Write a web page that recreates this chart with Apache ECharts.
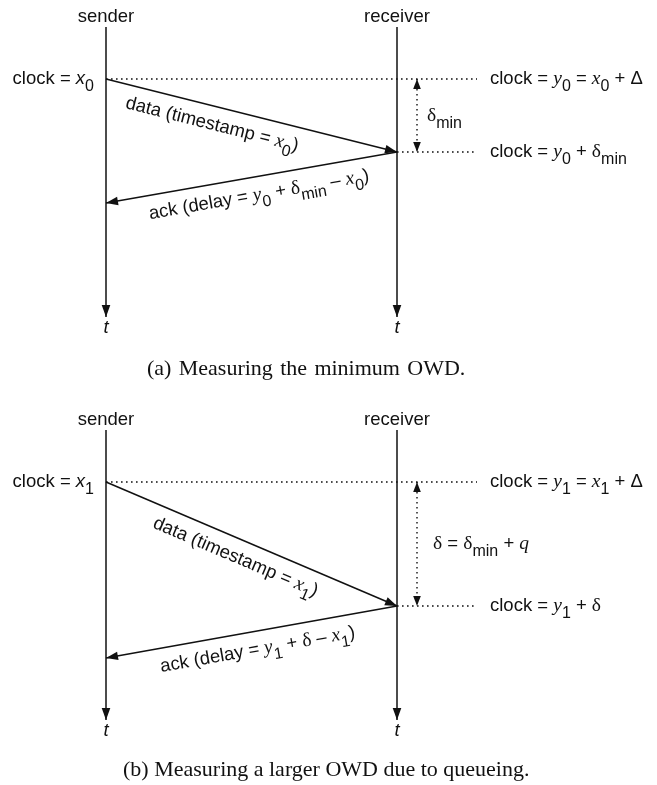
<!DOCTYPE html>
<html><head><meta charset="utf-8">
<script src="https://cdn.jsdelivr.net/npm/echarts@6/dist/echarts.min.js"></script>
<style>html,body{margin:0;padding:0;background:#fff}#c{width:657px;height:785px}</style>
</head><body><div id="c"></div>
<script>
// ---------------- data ----------------
const participants = ['sender', 'receiver'];
const participantPos = [0, 1];
const timelineStart = -52;
const timelineEnd = 238;
// index 0 = panel (a), index 1 = panel (b)
const sendTimes = [0, 0];
const arriveTimes = [73, 124];
const ackTimes = [124, 176];
const senderClockLabels = ['clock = {xi|x}{sub|0}', 'clock = {xi|x}{sub|1}'];
const receiverClockLabels = ['clock = {ti|y}{sub|0} = {ti|x}{sub|0} + Δ', 'clock = {ti|y}{sub|1} = {ti|x}{sub|1} + Δ'];
const arrivalClockLabels = ['clock = {ti|y}{sub|0} + {d|δ}{sub|min}', 'clock = {ti|y}{sub|1} + {d|δ}'];
const delayLabels = ['{d|δ}{sub|min}', '{d|δ} = {d|δ}{sub|min} + {ti|q}'];
const dataLabels = ['data (timestamp = {ti|x}{sub|0})', 'data (timestamp = {ti|x}{sub|1})'];
const ackLabels = ['ack (delay = {ti|y}{sub|0} + {d|δ}{sub|min} – {ti|x}{sub|0})', 'ack (delay = {ti|y}{sub|1} + {d|δ} – {ti|x}{sub|1})'];
const captions = ['(a) \u200AMeasuring \u200Athe \u200Aminimum \u200AOWD.', '(b) Measuring a larger OWD due to queueing.'];

// ---------------- layout / style ----------------
const INK = '#111';
const SANS = '"Liberation Sans", Arial, Helvetica, sans-serif';
const SERIF = '"Liberation Serif", "Times New Roman", serif';
const gridTops = [27, 430];
const captionTops = [357, 758];
const captionLefts = [147, 123];
const msgLabelFrac = [[0.38, 0.515], [0.47, 0.51]];
const MSG_LABEL_OFFSET = 18.5;
const delayLabelGap = [30, 36];
const rich = {
  sub: {fontFamily: SANS, fontSize: 16, padding: [16, 0, 0, 0], fill: INK},
  xi: {fontFamily: SANS, fontStyle: 'italic', fontSize: 18.5, fill: INK},
  ti: {fontFamily: SERIF, fontStyle: 'italic', fontSize: 19.5, fill: INK},
  d: {fontFamily: SERIF, fontSize: 19.5, fill: INK}
};

function seg(a, b, dotted) {
  return {type: 'line', shape: {x1: a[0], y1: a[1], x2: b[0], y2: b[1]},
    style: {stroke: INK, lineWidth: dotted ? 1.4 : 1.5, lineDash: dotted ? [1.6, 3.4] : null, fill: null}};
}
function head(tip, from, len, half) {
  len = len || 12; half = half || 4.3;
  const dx = tip[0] - from[0], dy = tip[1] - from[1];
  const L = Math.hypot(dx, dy), ux = dx / L, uy = dy / L;
  const bx = tip[0] - ux * len, by = tip[1] - uy * len;
  return {type: 'polygon', shape: {points: [tip, [bx - uy * half, by + ux * half], [bx + uy * half, by - ux * half]]},
    style: {fill: INK, stroke: null}};
}
function txt(x, y, text, st, extra) {
  return Object.assign({type: 'text', x: x, y: y, silent: true,
    style: Object.assign({text: text, rich: rich, fontFamily: SANS, fontSize: 18.5, fill: INK,
      align: 'left', verticalAlign: 'middle'}, st || {})}, extra || {});
}

const series = [];
[0, 1].forEach(function (k) {
  const base = {type: 'custom', xAxisIndex: k, yAxisIndex: k, silent: true, clip: false};
  // lifelines
  series.push(Object.assign({}, base, {
    data: participants.map(function (p, i) { return [participantPos[i], timelineStart, timelineEnd]; }),
    renderItem: function (params, api) {
      const x = api.value(0);
      const a = api.coord([x, api.value(1)]), b = api.coord([x, api.value(2)]);
      return {type: 'group', children: [
        seg(a, b), head(b, a),
        txt(a[0], a[1] - 10, participants[params.dataIndex], {align: 'center'}),
        txt(b[0], b[1] + 11, 't', {align: 'center', fontStyle: 'italic'})
      ]};
    }
  }));
  // messages
  series.push(Object.assign({}, base, {
    data: [[participantPos[0], sendTimes[k], participantPos[1], arriveTimes[k]],
           [participantPos[1], arriveTimes[k], participantPos[0], ackTimes[k]]],
    renderItem: function (params, api) {
      const i = params.dataIndex;
      const p0 = api.coord([api.value(0), api.value(1)]);
      const p1 = api.coord([api.value(2), api.value(3)]);
      const L = p0[0] < p1[0] ? p0 : p1, R = p0[0] < p1[0] ? p1 : p0;
      const th = Math.atan2(R[1] - L[1], R[0] - L[0]);
      const f = msgLabelFrac[k][i];
      const cx = L[0] + f * (R[0] - L[0]) - Math.sin(th) * MSG_LABEL_OFFSET;
      const cy = L[1] + f * (R[1] - L[1]) + Math.cos(th) * MSG_LABEL_OFFSET;
      return {type: 'group', children: [
        seg(p0, p1), head(p1, p0),
        txt(cx, cy, i === 0 ? dataLabels[k] : ackLabels[k], {align: 'center'}, {rotation: -th})
      ]};
    }
  }));
  // clock reference lines
  series.push(Object.assign({}, base, {
    data: [[participantPos[0], sendTimes[k]], [participantPos[1], arriveTimes[k]]],
    renderItem: function (params, api) {
      const i = params.dataIndex;
      const p = api.coord([api.value(0), api.value(1)]);
      const rx = api.coord([participantPos[1], api.value(1)])[0];
      const ch = [seg(p, [rx + 80, p[1]], true),
        txt(rx + 93, p[1], i === 0 ? receiverClockLabels[k] : arrivalClockLabels[k])];
      if (i === 0) ch.push(txt(p[0] - 12, p[1], senderClockLabels[k], {align: 'right'}));
      return {type: 'group', children: ch};
    }
  }));
  // delay interval
  series.push(Object.assign({}, base, {
    data: [[participantPos[1], sendTimes[k], arriveTimes[k]]],
    renderItem: function (params, api) {
      const a = api.coord([api.value(0), api.value(1)]);
      const b = api.coord([api.value(0), api.value(2)]);
      const x = a[0] + 20;
      const A = [x, a[1]], B = [x, b[1]];
      return {type: 'group', children: [
        seg(A, B, true), head(A, B, 10, 3.8), head(B, A, 10, 3.8),
        txt(a[0] + delayLabelGap[k], (a[1] + b[1]) / 2, delayLabels[k])
      ]};
    }
  }));
});

const chart = echarts.init(document.getElementById('c'), null, {renderer: 'canvas'});
chart.setOption({
  animation: false,
  backgroundColor: '#fff',
  title: [0, 1].map(function (k) {
    return {text: captions[k], left: captionLefts[k], top: captionTops[k], padding: 0,
      textStyle: {fontFamily: SERIF, fontSize: 22, fontWeight: 'normal', color: INK, lineHeight: 24}};
  }),
  grid: [0, 1].map(function (k) { return {left: 106, width: 291, top: gridTops[k], height: 290}; }),
  xAxis: [0, 1].map(function (k) { return {type: 'value', gridIndex: k, min: 0, max: 1, show: false}; }),
  yAxis: [0, 1].map(function (k) {
    return {type: 'value', gridIndex: k, min: timelineStart, max: timelineEnd, inverse: true, show: false};
  }),
  series: series
});
</script>
</body></html>
